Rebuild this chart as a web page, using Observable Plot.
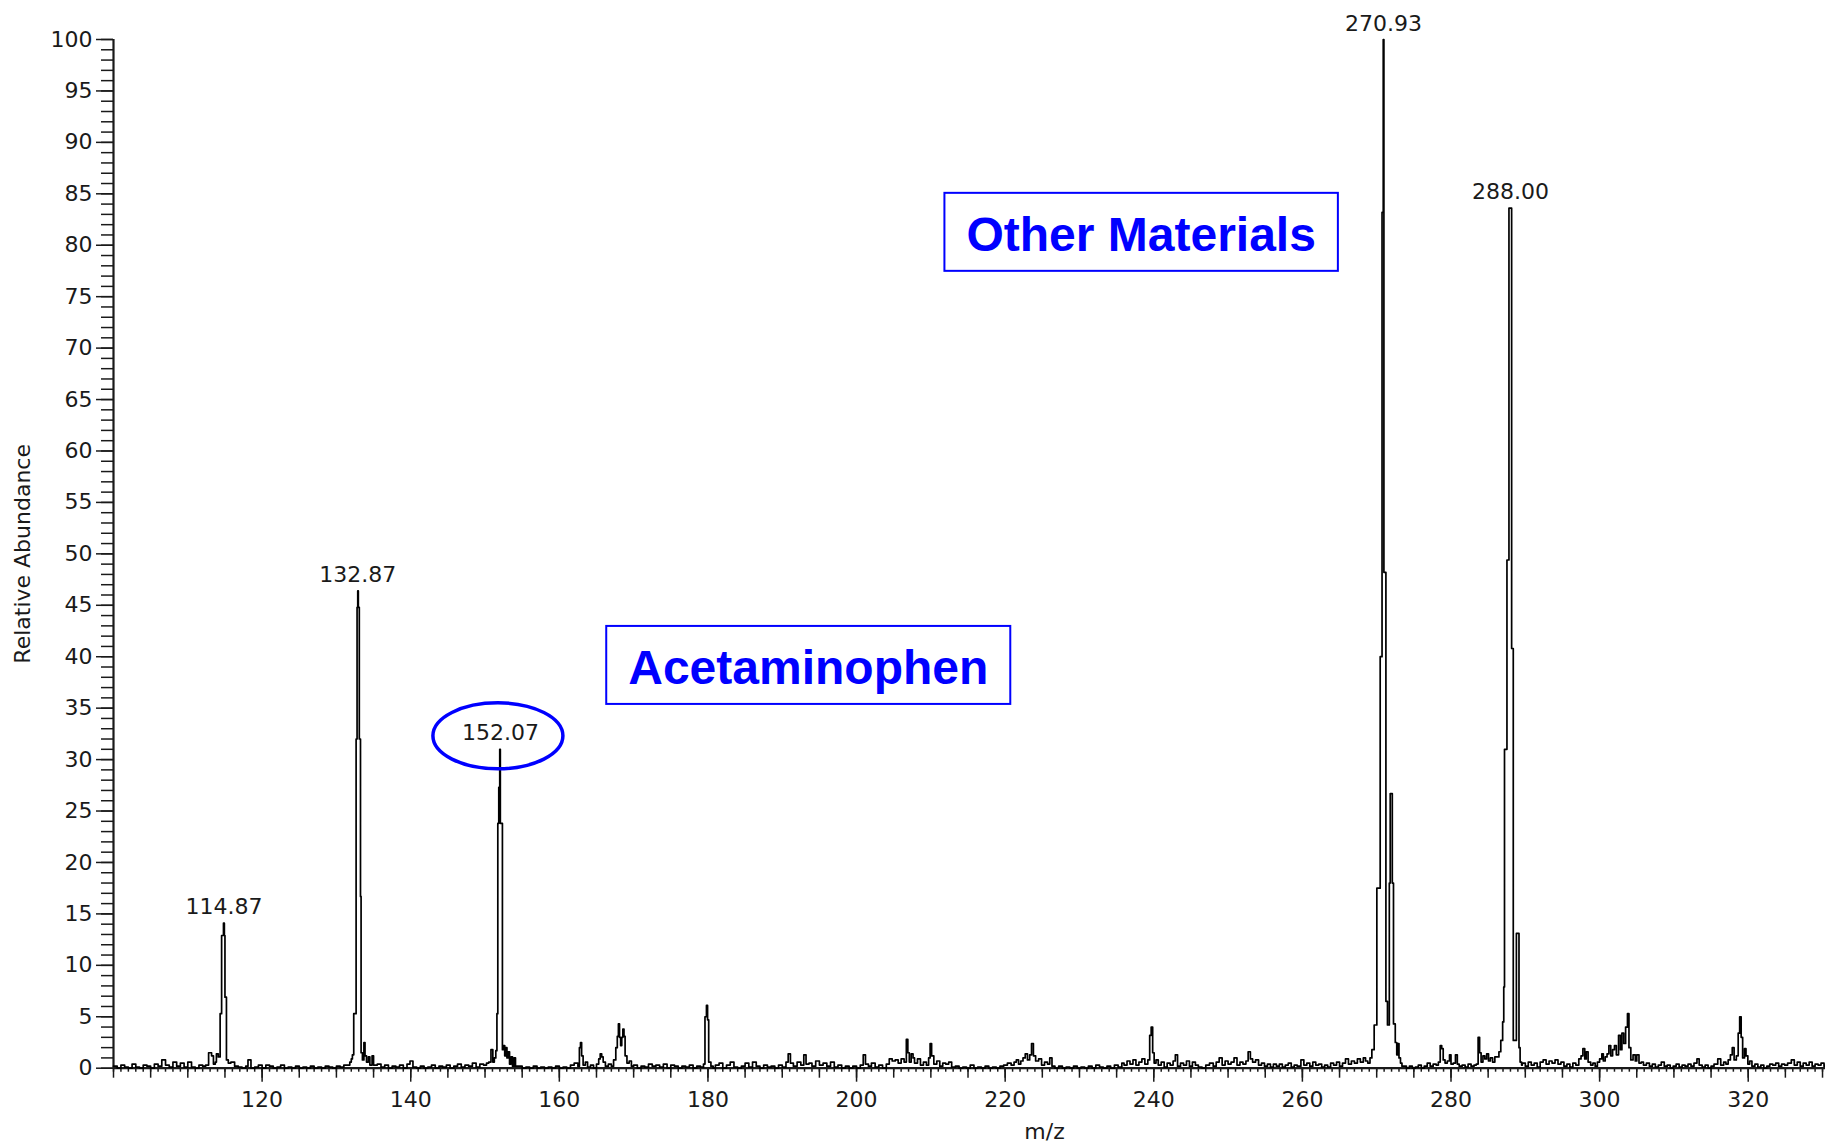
<!DOCTYPE html>
<html>
<head>
<meta charset="utf-8">
<script src="https://cdn.jsdelivr.net/npm/d3@7"></script>
<script src="https://cdn.jsdelivr.net/npm/@observablehq/plot@0.6"></script>
<style>
  html, body { margin: 0; padding: 0; background: #ffffff; }
  #chart svg { display: block; }
</style>
</head>
<body>
<div id="chart"></div>
<script>
// ---------- Data (m/z, relative abundance) ----------
const noise = [
  [100.0,0.2],[100.5,0.0],[101.0,0.3],[101.5,0.1],[102.0,0.0],[102.5,0.4],[103.0,0.1],[103.5,0.0],[104.0,0.3],[104.5,0.2],[105.0,0.0],[105.5,0.4],[106.0,0.2],[106.5,0.8],[107.0,0.3],[107.5,0.1],[108.0,0.6],[108.5,0.2],[109.0,0.5],[109.5,0.1],[110.0,0.6],[110.5,0.1],[111.0,0.0],[111.5,0.3],[112.0,0.2],
  [115.8,0.6],[116.3,0.2],[116.8,0.1],[117.3,0.0],[117.8,0.2],[118.1,0.8],[118.5,0.0],[119.0,0.1],[119.5,0.3],[120.0,0.0],[120.5,0.3],[121.0,0.2],[121.5,0.0],[122.0,0.1],[122.5,0.3],[123.0,0.0],[123.5,0.1],[124.0,0.0],[124.5,0.2],[125.0,0.0],[125.5,0.1],[126.0,0.0],[126.5,0.2],[127.0,0.0],[127.5,0.1],[128.0,0.0],[128.5,0.2],[129.0,0.1],[129.5,0.0],[130.0,0.2],[130.5,0.1],[131.0,0.3],
  [135.5,0.4],[136.0,0.1],[136.5,0.3],[137.0,0.0],[137.5,0.2],[138.0,0.1],[138.5,0.3],[139.0,0.0],[139.5,0.4],[139.9,0.7],[140.3,0.1],[140.8,0.0],[141.3,0.2],[141.8,0.0],[142.3,0.1],[142.8,0.3],[143.3,0.0],[143.8,0.2],[144.3,0.1],[144.8,0.3],[145.3,0.0],[145.8,0.2],[146.3,0.4],[146.8,0.1],[147.3,0.3],[147.8,0.2],[148.3,0.5],[148.8,0.1],[149.3,0.4],[149.8,0.3],[150.2,0.5],
  [154.5,0.2],[155.0,0.0],[155.5,0.1],[156.0,0.0],[156.5,0.2],[157.0,0.0],[157.5,0.1],[158.0,0.0],[158.5,0.1],[159.0,0.0],[159.5,0.2],[160.0,0.0],[160.5,0.1],[161.0,0.0],[161.5,0.3],[162.0,0.5],
  [170.0,0.3],[170.5,0.0],[171.0,0.2],[171.5,0.1],[172.0,0.4],[172.5,0.2],[173.0,0.3],[173.5,0.1],[174.0,0.4],[174.5,0.0],[175.0,0.3],[175.5,0.2],[176.0,0.0],[176.5,0.2],[177.0,0.1],[177.5,0.3],[178.0,0.0],[178.5,0.2],[179.0,0.1],
  [180.7,0.0],[181.0,0.3],[181.5,0.5],[182.0,0.0],[182.5,0.3],[183.0,0.6],[183.5,0.1],[184.0,0.0],[184.5,0.2],[185.0,0.5],[185.5,0.1],[186.0,0.6],[186.5,0.2],[187.0,0.0],[187.5,0.3],[188.0,0.1],[188.5,0.2],[189.0,0.0],[189.5,0.3],[190.0,0.1],[190.5,0.6],[190.8,1.4],[191.1,0.5],[191.5,0.2],[192.0,0.6],[192.5,0.3],[192.9,1.3],[193.2,0.4],[193.6,0.5],[194.0,0.2],[194.5,0.7],[195.0,0.3],[195.5,0.5],[196.0,0.2],[196.5,0.6],[197.0,0.1],[197.5,0.3],[198.0,0.0],[198.5,0.2],[199.0,0.0],[199.5,0.2],[200.0,0.0],[200.5,0.3],[200.9,1.3],[201.2,0.4],[201.6,0.2],[202.0,0.5],[202.5,0.1],[203.0,0.3],[203.5,0.0],[204.0,0.4],[204.4,0.9],[204.8,0.7],[205.2,0.8],[205.6,0.5],[206.0,0.9],
  [213.3,0.2],[213.8,0.0],[214.3,0.1],[214.8,0.0],[215.3,0.3],[215.8,0.0],[216.3,0.1],[216.8,0.0],[217.3,0.2],[217.8,0.0],[218.3,0.1],[218.8,0.0],[219.3,0.2],[219.8,0.3],[220.3,0.5],[220.8,0.3],[221.2,0.6],[221.5,0.8],[221.8,0.4],
  [226.7,0.0],[227.2,0.2],[227.7,0.0],[228.2,0.1],[228.7,0.0],[229.2,0.2],[229.7,0.0],[230.2,0.1],[230.7,0.0],[231.2,0.2],[231.7,0.0],[232.2,0.3],[232.7,0.1],[233.2,0.0],[233.7,0.2],[234.2,0.0],[234.7,0.3],[235.2,0.1],[235.7,0.5],[236.0,0.3],[236.4,0.7],[236.8,0.4],[237.2,0.8],[237.6,0.3],[238.0,0.6],[238.4,0.9],[238.8,0.4],
  [240.6,0.3],[241.0,0.6],[241.4,0.1],[241.8,0.5],[242.2,0.3],[242.6,0.7],[242.9,1.3],[243.2,0.2],[243.6,0.5],[244.0,0.3],[244.4,0.7],[244.8,0.2],[245.2,0.6],[245.6,0.3],[246.0,0.1],[246.5,0.0],[247.0,0.3],[247.5,0.5],[248.0,0.2],[248.4,0.6],[248.8,1.0],[249.2,0.3],[249.6,0.7],[250.0,0.4],[250.4,0.6],[250.8,1.0],[251.2,0.3],[251.6,0.6],[252.0,0.4],[252.4,0.7],[252.7,1.6],[253.0,0.9],[253.3,0.6],[253.7,0.8],[254.1,0.3],[254.5,0.5],[254.9,0.2],[255.3,0.4],[255.7,0.1],[256.1,0.4],[256.5,0.2],[256.9,0.4],[257.3,0.1],[257.7,0.3],[258.1,0.5],[258.5,0.1],[258.9,0.3],[259.3,0.2],[259.8,0.8],[260.2,0.3],[260.6,0.5],[261.0,0.2],[261.4,0.6],[261.8,0.3],[262.2,0.4],[262.6,0.1],[263.0,0.3],[263.4,0.1],[263.8,0.5],[264.2,0.3],[264.6,0.6],[265.0,0.2],[265.4,0.5],[265.8,0.9],[266.2,0.4],[266.6,0.7],[267.0,0.5],[267.4,0.9],[267.8,0.6],[268.2,1.0],[268.5,0.7],
  [273.6,0.2],[274.0,0.0],[274.4,0.2],[274.8,0.0],[275.2,0.1],[275.6,0.3],[276.0,0.0],[276.4,0.2],[276.8,0.5],[277.2,0.2],[277.6,0.4],[278.0,0.3],
  [281.5,0.3],[281.9,0.1],[282.3,0.4],[282.7,0.2],[283.1,0.3],[283.4,0.4],
  [289.6,0.5],[290.0,0.2],[290.4,0.6],[290.8,0.3],[291.2,0.5],[291.6,0.1],[292.0,0.6],[292.4,0.8],[292.8,0.4],[293.2,0.7],[293.6,0.5],[294.0,0.8],[294.4,0.4],[294.8,0.6],[295.2,0.2],[295.6,0.4],[296.0,0.1],[296.4,0.5],[296.8,0.3],[297.2,0.9],
  [305.9,0.3],[306.3,0.5],[306.7,0.2],[307.1,0.4],[307.5,0.1],[307.9,0.3],[308.3,0.6],[308.7,0.2],[309.1,0.3],[309.5,0.0],[309.9,0.2],[310.3,0.4],[310.7,0.1],[311.1,0.3],[311.5,0.2],[311.9,0.4],[312.3,0.2],[312.7,0.5],[313.1,0.9],[313.4,0.3],[313.8,0.1],[314.2,0.3],[314.6,0.0],[315.0,0.2],[315.4,0.4],[315.9,0.9],[316.3,0.3],[316.7,0.6],[317.0,0.4],
  [320.5,0.2],[320.9,0.4],[321.3,0.1],[321.7,0.3],[322.1,0.0],[322.5,0.2],[322.9,0.4],[323.3,0.3],[323.7,0.5],[324.1,0.2],[324.5,0.4],[324.9,0.3],[325.3,0.5],[325.8,0.8],[326.2,0.3],[326.6,0.6],[327.0,0.2],[327.4,0.5],[327.8,0.3],[328.2,0.6],[328.6,0.2],[329.0,0.4],[329.4,0.3],[329.8,0.5],[330.2,0.2],[330.4,0.3]
];

const peak115 = [[112.4,0.3],[112.8,1.5],[113.2,1.2],[113.45,0.4],[113.7,0.6],[113.85,1.4],[114.1,1.1],[114.35,5.3],[114.55,12.9],[114.8,14.1],[114.92,12.9],[115.0,6.9],[115.2,0.8],[115.45,0.5]];
const peak133 = [[131.5,0.3],[131.8,0.6],[132.0,0.9],[132.15,1.3],[132.33,5.3],[132.65,32.0],[132.78,44.8],[132.87,46.4],[132.95,44.8],[133.08,32.0],[133.24,16.7],[133.32,1.5],[133.5,0.8],[133.7,2.5],[133.85,1.2],[134.05,0.6],[134.3,1.1],[134.5,0.3],[134.8,1.2],[135.0,0.3]];
const peak152 = [[150.5,0.6],[150.8,1.8],[151.05,0.6],[151.25,1.0],[151.45,1.7],[151.6,5.3],[151.72,23.8],[151.85,27.3],[151.98,31.0],[152.06,23.8],[152.34,1.8],[152.5,2.2],[152.65,1.2],[152.8,2.0],[152.95,1.0],[153.1,1.6],[153.3,0.4],[153.5,1.1],[153.7,0.2],[153.9,1.0],[154.1,0.2]];
const cluster163to169 = [[162.5,0.2],[162.7,2.0],[162.85,2.5],[163.0,1.2],[163.2,0.3],[163.5,0.6],[163.8,0.1],[164.2,0.3],[164.6,0.0],[165.0,0.4],[165.3,0.9],[165.5,1.4],[165.7,1.1],[165.9,0.6],[166.2,0.2],[166.6,0.4],[167.0,0.2],[167.3,0.8],[167.6,2.0],[167.8,3.1],[167.95,4.3],[168.1,3.0],[168.25,2.2],[168.4,3.0],[168.55,3.8],[168.7,3.1],[168.85,1.2],[169.1,0.5],[169.4,0.7],[169.7,0.2]];
const peak180 = [[179.4,0.4],[179.6,5.0],[179.8,6.1],[179.95,4.7],[180.1,0.6],[180.4,0.2]];
const cluster207to212 = [[206.4,0.6],[206.7,2.8],[206.9,1.5],[207.1,0.6],[207.35,1.4],[207.6,1.0],[207.8,0.5],[208.2,0.9],[208.6,0.3],[209.0,0.6],[209.4,0.3],[209.7,1.0],[209.9,2.4],[210.1,1.2],[210.4,0.4],[210.8,0.7],[211.2,0.2],[211.6,0.5],[212.0,0.4],[212.4,0.6],[212.8,0.1]];
const cluster222to226 = [[222.1,0.7],[222.4,1.0],[222.7,1.4],[223.0,0.8],[223.3,1.3],[223.55,2.4],[223.8,1.2],[224.1,0.7],[224.5,0.9],[224.9,0.3],[225.3,0.6],[225.7,0.4],[226.0,1.0],[226.3,0.2]];
const peak240 = [[239.2,0.8],[239.45,3.2],[239.65,4.0],[239.85,1.5],[240.05,0.5],[240.3,0.8]];
const peak271 = [[268.8,0.5],[269.1,1.0],[269.35,1.8],[269.66,4.2],[270.02,17.5],[270.47,40.0],[270.72,83.2],[270.88,100],[270.97,48.2],[271.24,6.5],[271.45,4.2],[271.7,18.0],[271.82,26.7],[272.1,18.0],[272.26,4.3],[272.5,2.5],[272.7,1.3],[272.85,2.4],[273.0,1.0],[273.2,0.5],[273.4,0.2]];
const cluster279to281 = [[278.3,0.6],[278.55,2.2],[278.75,1.9],[278.95,0.8],[279.2,0.5],[279.5,0.7],[279.8,1.3],[280.0,0.4],[280.3,0.5],[280.6,1.3],[280.85,0.4],[281.1,0.2]];
const peak288 = [[283.65,3.0],[283.85,1.5],[284.05,0.6],[284.3,1.2],[284.55,0.9],[284.8,1.4],[285.05,0.7],[285.3,1.0],[285.6,0.6],[285.9,1.1],[286.2,1.1],[286.45,1.6],[286.7,2.7],[286.95,4.5],[287.1,7.9],[287.2,31.0],[287.53,49.4],[287.8,83.6],[288.16,40.8],[288.38,2.7],[288.8,13.1],[289.15,2.0],[289.3,0.6],[289.5,0.3]];
const cluster298to305 = [[297.5,1.2],[297.75,1.9],[298.0,0.9],[298.2,1.6],[298.45,0.6],[298.8,0.3],[299.1,0.5],[299.4,0.2],[299.7,0.6],[300.0,0.9],[300.3,1.4],[300.5,0.7],[300.75,1.1],[301.0,1.4],[301.25,2.2],[301.5,1.2],[301.75,1.8],[302.0,2.2],[302.25,1.3],[302.55,3.2],[302.8,1.8],[303.0,3.4],[303.25,2.4],[303.5,4.0],[303.75,5.3],[303.95,2.0],[304.2,0.8],[304.5,1.3],[304.8,0.7],[305.0,1.3],[305.3,0.5],[305.6,0.6]];
const peak319 = [[317.3,0.8],[317.6,1.3],[317.85,2.0],[318.1,0.8],[318.4,1.2],[318.65,3.4],[318.85,5.0],[319.05,3.0],[319.25,1.0],[319.5,1.9],[319.7,1.2],[319.95,0.4],[320.2,0.7]];

// Labelled peaks
const labelMz = [114.87, 132.87, 152.07, 270.93, 288.00];
const labelAbundance = [14.1, 46.4, 31.0, 100, 83.6];

// Boxed annotations (anchor in data space)
const noteText = ["Acetaminophen", "Other Materials"];
const noteMz = [193.5, 238.3];
const noteAbundance = [38.8, 80.9];

// Axis ticks
const xLabelTicks = [120, 140, 160, 180, 200, 220, 240, 260, 280, 300, 320];
const yLabelTicks = [0, 5, 10, 15, 20, 25, 30, 35, 40, 45, 50, 55, 60, 65, 70, 75, 80, 85, 90, 95, 100];

// ---------- Build ----------
const spectrum = [...noise, ...peak115, ...peak133, ...peak152, ...cluster163to169, ...peak180,
  ...cluster207to212, ...cluster222to226, ...peak240, ...peak271, ...cluster279to281, ...peak288,
  ...cluster298to305, ...peak319]
  .map(([mz, ab]) => ({mz, ab}))
  .sort((a, b) => a.mz - b.mz);

const peaks = labelMz.map((mz, i) => ({mz, ab: labelAbundance[i]}));
const notes = noteText.map((t, i) => ({t, mz: noteMz[i], ab: noteAbundance[i]}));

const xMinorTicks = d3.range(100, 331, 1);
const xMidTicks = d3.range(100, 331, 5);
const yMinorTicks = d3.range(0, 101, 1);

const ink = "#1a1a1a";
const blue = "#0000ff";

const plot = Plot.plot({
  width: 1825,
  height: 1143,
  marginLeft: 113,
  marginRight: 0,
  marginTop: 39,
  marginBottom: 75.3,
  x: {domain: [100, 330.4]},
  y: {domain: [0, 100]},
  style: {fontFamily: "DejaVu Sans", fontSize: "22px", color: ink, background: "#ffffff", overflow: "visible"},
  marks: [
    Plot.axisY({ticks: yMinorTicks, tickSize: 12, tickFormat: () => "", strokeWidth: 1.5, label: null}),
    Plot.axisY({ticks: yLabelTicks, tickSize: 17, tickPadding: 4, strokeWidth: 1.5,
      label: "Relative Abundance", labelAnchor: "center", labelArrow: "none", labelOffset: 99}),
    Plot.axisX({ticks: xMinorTicks, tickSize: 4, tickFormat: () => "", strokeWidth: 1.5, label: null}),
    Plot.axisX({ticks: xMidTicks, tickSize: 10, tickFormat: () => "", strokeWidth: 1.5, label: null}),
    Plot.axisX({ticks: xLabelTicks, tickSize: 14, tickPadding: 9, strokeWidth: 1.5, label: null}),
    Plot.ruleX([100], {stroke: ink, strokeWidth: 2.2}),
    Plot.ruleY([0], {stroke: ink, strokeWidth: 2.2}),
    Plot.line(spectrum, {x: "mz", y: "ab", curve: "step-after", stroke: "#000000", strokeWidth: 1.7}),
    Plot.text(peaks, {x: "mz", y: "ab", text: d => d.mz.toFixed(2), dy: -16, fill: ink}),
    Plot.text(notes, {x: "mz", y: "ab", text: "t", fill: blue, fontSize: 48, fontWeight: "bold",
      fontFamily: "Liberation Sans, Arial, sans-serif", className: "note"}),
    Plot.text(["m/z"], {text: d => d, frameAnchor: "bottom", dx: 75, dy: 71, fill: ink})
  ]
});

document.getElementById("chart").append(plot);

// Boxes around the annotation texts
plot.querySelectorAll(".note text").forEach(t => {
  const b = t.getBBox();
  const cy = b.y + b.height / 2 - 3;
  const r = document.createElementNS("http://www.w3.org/2000/svg", "rect");
  r.setAttribute("x", b.x - 22);
  r.setAttribute("y", cy - 39);
  r.setAttribute("width", b.width + 44);
  r.setAttribute("height", 78);
  r.setAttribute("fill", "none");
  r.setAttribute("stroke", blue);
  r.setAttribute("stroke-width", 2);
  const tr = t.getAttribute("transform");
  if (tr) r.setAttribute("transform", tr);
  t.parentNode.insertBefore(r, t);
});

// Ellipse highlighting the acetaminophen ion label
const xs = plot.scale("x"), ys = plot.scale("y");
d3.select(plot).append("ellipse")
  .attr("cx", xs.apply(labelMz[2]) - 2)
  .attr("cy", ys.apply(labelAbundance[2]) - 13)
  .attr("rx", 65)
  .attr("ry", 33)
  .attr("fill", "none")
  .attr("stroke", blue)
  .attr("stroke-width", 3.5);
</script>
</body>
</html>
